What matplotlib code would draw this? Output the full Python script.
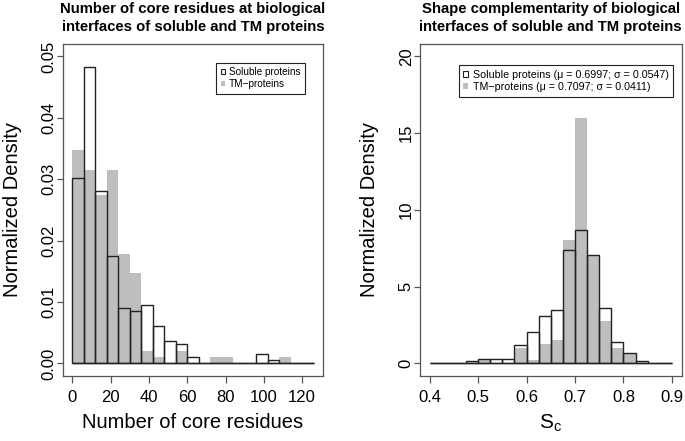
import matplotlib

matplotlib.use("Agg")

import matplotlib.pyplot as plt
from matplotlib.patches import Patch
import numpy as np

plt.rcParams["font.family"] = ["Liberation Sans", "DejaVu Sans"]

# left panel: number of core residues, bins of width 6 from 0 to 126
core_edges = np.arange(0, 127, 6)
core_soluble = [0.0302, 0.0483, 0.0281, 0.0175, 0.0090, 0.0085, 0.0095, 0.0061,
                0.0036, 0.0031, 0.0010, 0, 0, 0, 0, 0, 0.0015, 0.0005, 0, 0, 0]
core_tm = [0.0347, 0.0315, 0.0274, 0.0315, 0.0179, 0.0147, 0.0021, 0.0011,
           0, 0.0021, 0, 0, 0.0011, 0.0011, 0, 0, 0, 0, 0.0011, 0, 0]

# right panel: shape complementarity, bins of width 0.025 from 0.4 to 0.9
sc_edges = np.round(np.arange(0.4, 0.9001, 0.025), 3)
sc_soluble = [0, 0, 0, 0.13, 0.26, 0.26, 0.26, 1.20, 2.04, 3.11, 3.50, 7.41,
              8.70, 7.06, 3.58, 1.42, 0.71, 0.13, 0, 0]
sc_tm = [0, 0, 0, 0, 0.26, 0, 0, 0.99, 0.23, 1.29, 1.52, 8.01,
         16.0, 7.00, 2.77, 1.03, 0.70, 0, 0, 0]

GRAY = "#BEBEBE"
EDGE = "#222222"
BOX = "#555555"


def draw_hist(ax, edges, soluble, tm):
    width = edges[1] - edges[0]
    ax.bar(edges[:-1], tm, width=width, align="edge", color=GRAY,
           edgecolor="none", zorder=1)
    ax.bar(edges[:-1], soluble, width=width, align="edge", fill=False,
           edgecolor=EDGE, linewidth=1.0, zorder=2)
    ax.hlines(0, edges[0], edges[-1], color=EDGE, linewidth=1.0, zorder=2)
    for spine in ax.spines.values():
        spine.set_color(BOX)
        spine.set_linewidth(0.9)
    ax.tick_params(direction="out", width=0.9, color=BOX, labelsize=12)
    ax.tick_params(axis="x", length=5, pad=5)
    ax.tick_params(axis="y", length=4.5, pad=0)


def add_legend(ax, labels, anchor, size):
    leg = ax.legend(
        handles=[Patch(facecolor="white", edgecolor=EDGE, linewidth=0.8),
                 Patch(facecolor=GRAY, edgecolor="none")],
        labels=labels, loc="upper right", bbox_to_anchor=anchor,
        borderaxespad=0, fontsize=size,
        handlelength=0.45, handleheight=0.45, handletextpad=0.4,
        labelspacing=0.2, borderpad=0.45, fancybox=False, framealpha=1,
        edgecolor=EDGE,
    )
    leg.get_frame().set_linewidth(0.8)


fig = plt.figure(figsize=(6.85, 4.41), dpi=100)
fig.patch.set_facecolor("white")

ax1 = fig.add_axes([0.0915, 0.148, 0.3804, 0.752])
draw_hist(ax1, core_edges, core_soluble, core_tm)
ax1.set_xlim(-5.04, 131.04)
ax1.set_ylim(-0.002, 0.052)
ax1.set_xticks(range(0, 121, 20))
ax1.set_yticks([0.0, 0.01, 0.02, 0.03, 0.04, 0.05])
ax1.set_yticklabels(["0.00", "0.01", "0.02", "0.03", "0.04", "0.05"],
                    rotation=90, va="center")
ax1.set_xlabel("Number of core residues", fontsize=14.5)
ax1.set_ylabel("Normalized Density", fontsize=14.5)
ax1.xaxis.set_label_coords(0.5, -0.112)
ax1.yaxis.set_label_coords(-0.158, 0.5)
add_legend(ax1, ["Soluble proteins", "TM\u2212proteins"], (0.93, 0.944), 7.2)

ax2 = fig.add_axes([0.6131, 0.148, 0.382, 0.752])
draw_hist(ax2, sc_edges, sc_soluble, sc_tm)
ax2.set_xlim(0.38, 0.92)
ax2.set_ylim(-0.8, 20.8)
ax2.set_xticks([0.4, 0.5, 0.6, 0.7, 0.8, 0.9])
ax2.set_yticks([0, 5, 10, 15, 20])
ax2.set_yticklabels(["0", "5", "10", "15", "20"], rotation=90, va="center")
ax2.set_xlabel(r"$\mathregular{S_c}$", fontsize=15)
ax2.set_ylabel("Normalized Density", fontsize=14.5)
ax2.xaxis.set_label_coords(0.5, -0.112)
ax2.yaxis.set_label_coords(-0.158, 0.5)
add_legend(ax2, ["Soluble proteins (\u03bc = 0.6997; \u03c3 = 0.0547)",
                 "TM\u2212proteins (\u03bc = 0.7097; \u03c3 = 0.0411)"],
           (0.968, 0.937), 7.7)

titles = [
    (ax1, "Number of core residues at biological",
     "interfaces of soluble and TM proteins"),
    (ax2, "Shape complementarity of biological",
     "interfaces of soluble and TM proteins"),
]
for ax, line1, line2 in titles:
    pos = ax.get_position()
    xc = pos.x0 + pos.width / 2
    fig.text(xc, 1 - 9.0 / 441, line1, ha="center", va="center",
             fontsize=10.7, fontweight="bold")
    fig.text(xc, 1 - 27.0 / 441, line2, ha="center", va="center",
             fontsize=10.7, fontweight="bold")

fig.savefig("out.png", dpi=100)
